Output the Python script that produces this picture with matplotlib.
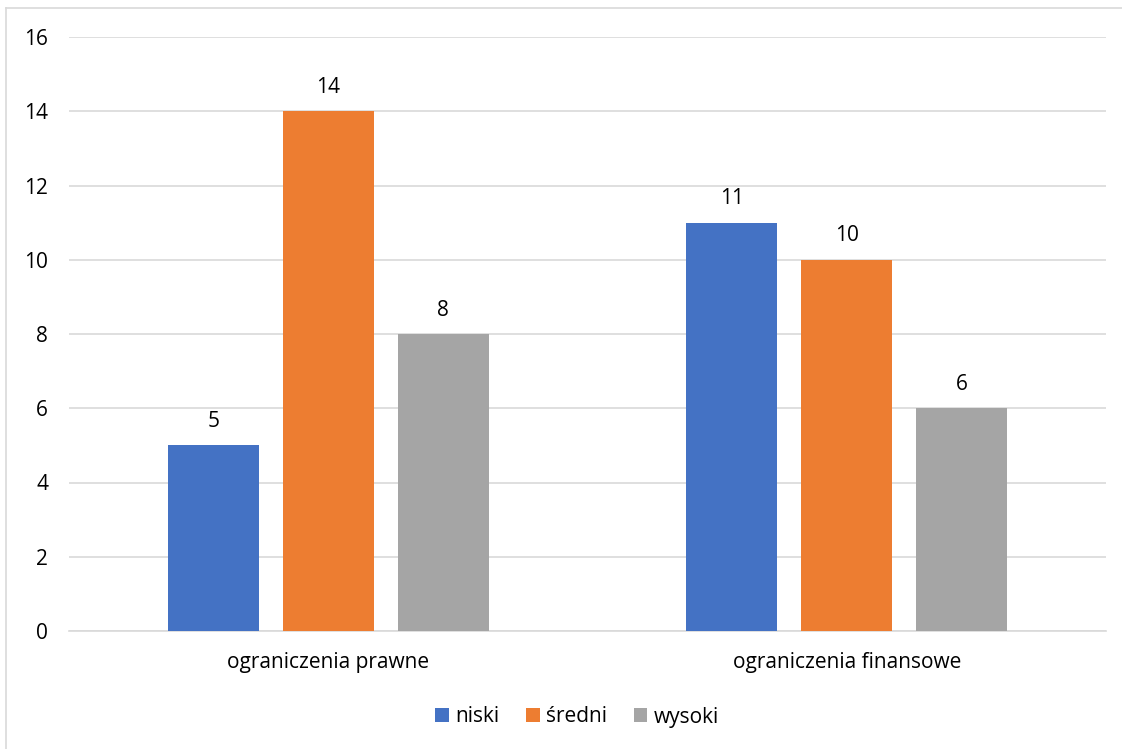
import numpy as np
import matplotlib.pyplot as plt
from matplotlib.lines import Line2D

categories = ['ograniczenia prawne', 'ograniczenia finansowe']
series = ['niski', 'średni', 'wysoki']
values = {
    'niski': [5, 11],
    'średni': [14, 10],
    'wysoki': [8, 6],
}
colors = ['#4472C4', '#ED7D31', '#A5A5A5']

plt.rcParams['font.family'] = ['Open Sans', 'DejaVu Sans']
fs = 15

fig = plt.figure(figsize=(11.22, 7.49), dpi=100)
# chart border: only top and left edges are visible in the reference
bx, by = 5.5 / 1122, 1 - 7.5 / 749
fig.lines.append(Line2D([bx, bx], [0, by], transform=fig.transFigure,
                        color='#D9D9D9', linewidth=1.2))
fig.lines.append(Line2D([bx, 1], [by, by], transform=fig.transFigure,
                        color='#D9D9D9', linewidth=1.2))

ax = fig.add_axes([69 / 1122, 1 - 631 / 749, (1106 - 69) / 1122, (631 - 37) / 749])

x = np.arange(len(categories))
width = 0.1755
step = 0.2218
for i, (name, col) in enumerate(zip(series, colors)):
    pos = x + (i - 1) * step
    bars = ax.bar(pos, values[name], width, color=col, label=name, zorder=3)
    for b, v in zip(bars, values[name]):
        ax.text(b.get_x() + b.get_width() / 2, v + 0.36, str(v),
                ha='center', va='bottom', fontsize=fs, color='#000000')

ax.set_xlim(-0.5, 1.5)
ax.set_ylim(0, 16)
ax.set_yticks(range(0, 17, 2))
ax.yaxis.grid(True, color='#D9D9D9', linewidth=1.2, zorder=0)
ax.set_xticks(x)
ax.set_xticklabels(categories, fontsize=fs)
ax.tick_params(axis='y', length=0, pad=15, labelsize=fs)
ax.tick_params(axis='x', length=0, pad=15)
for s in ['top', 'right', 'left']:
    ax.spines[s].set_visible(False)
ax.spines['bottom'].set_color('#D9D9D9')
ax.spines['bottom'].set_linewidth(1.2)

fig.legend(loc='center', bbox_to_anchor=(577 / 1122, 1 - 717 / 749), ncol=3,
           frameon=False, fontsize=fs, handlelength=0.65, handleheight=0.65,
           handletextpad=0.3, columnspacing=1.3)

fig.savefig('out.png', dpi=100, facecolor='white')
